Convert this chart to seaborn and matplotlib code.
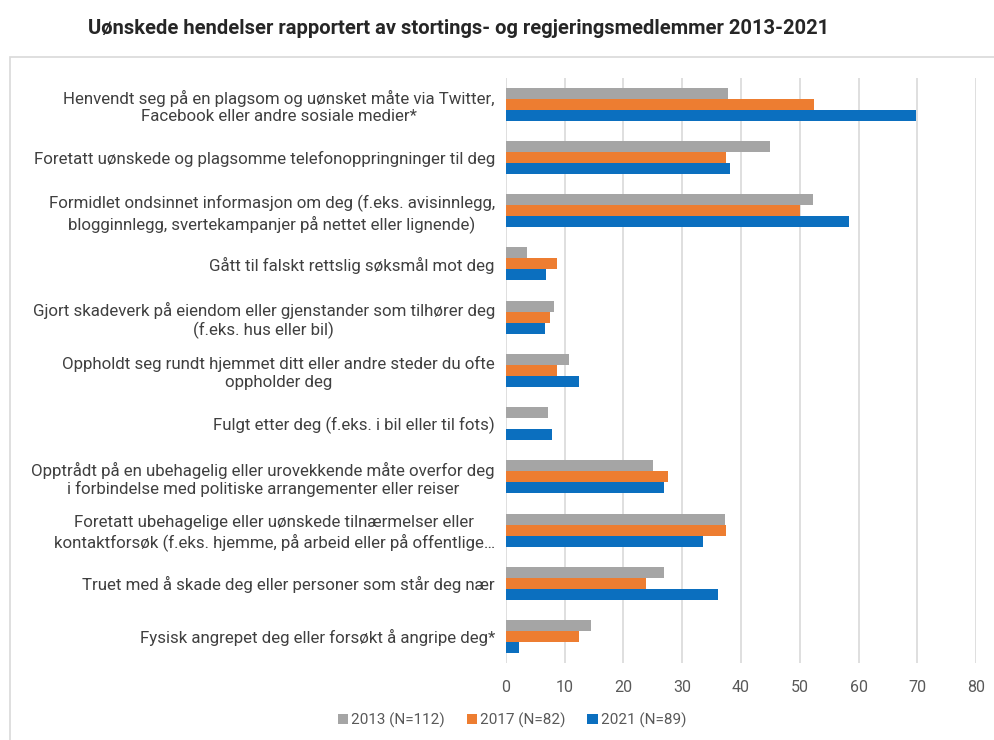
import pandas as pd
import matplotlib
matplotlib.use("Agg")
import matplotlib.pyplot as plt
from matplotlib.patches import Rectangle
import seaborn as sns

# Categories (top to bottom) and values per survey year
categories = [
    "Henvendt seg på en plagsom og uønsket måte via Twitter,\nFacebook eller andre sosiale medier*",
    "Foretatt uønskede og plagsomme telefonoppringninger til deg",
    "Formidlet ondsinnet informasjon om deg (f.eks. avisinnlegg,\nblogginnlegg, svertekampanjer på nettet eller lignende)",
    "Gått til falskt rettslig søksmål mot deg",
    "Gjort skadeverk på eiendom eller gjenstander som tilhører deg\n(f.eks. hus eller bil)",
    "Oppholdt seg rundt hjemmet ditt eller andre steder du ofte\noppholder deg",
    "Fulgt etter deg (f.eks. i bil eller til fots)",
    "Opptrådt på en ubehagelig eller urovekkende måte overfor deg\ni forbindelse med politiske arrangementer eller reiser",
    "Foretatt ubehagelige eller uønskede tilnærmelser eller\nkontaktforsøk (f.eks. hjemme, på arbeid eller på offentlige…",
    "Truet med å skade deg eller personer som står deg nær",
    "Fysisk angrepet deg eller forsøkt å angripe deg*",
]
series = ["2013 (N=112)", "2017 (N=82)", "2021 (N=89)"]
v2013 = [37.7, 45.0, 52.3, 3.5, 8.1, 10.8, 7.2, 25.1, 37.3, 26.9, 14.4]
v2017 = [52.5, 37.4, 50.0, 8.7, 7.5, 8.7, 0.0, 27.5, 37.5, 23.8, 12.4]
v2021 = [69.7, 38.1, 58.4, 6.8, 6.6, 12.4, 7.8, 26.9, 33.6, 36.0, 2.3]
colors = ["#A5A5A5", "#ED7D31", "#0B6FBF"]
x_ticks = [0, 10, 20, 30, 40, 50, 60, 70, 80]

rows = []
for name, vals in zip(series, [v2013, v2017, v2021]):
    for cat, v in zip(categories, vals):
        rows.append({"kategori": cat, "serie": name, "andel": v})
df = pd.DataFrame(rows)

sns.set_theme(style="white")
plt.rcParams["font.family"] = ["Roboto", "DejaVu Sans"]

fig = plt.figure(figsize=(9.95, 7.4), dpi=100)
ax = fig.add_axes([0.5085, 0.104, 0.4725, 0.791])

# light frame around the chart area
fig.patches.append(Rectangle((10 / 995, -0.2), 1.2, 1.2 - 57 / 740,
                             transform=fig.transFigure, fill=False,
                             edgecolor="#D9D9D9", linewidth=1.2, zorder=0))

sns.barplot(data=df, y="kategori", x="andel", hue="serie", orient="h",
            order=categories, hue_order=series, palette=colors,
            width=0.62, saturation=1, linewidth=0, ax=ax, legend=True)

ax.set_xlim(0, 80)
ax.set_xticks(x_ticks)
ax.set_xlabel("")
ax.set_ylabel("")
ax.grid(axis="x", color="#D9D9D9", linewidth=1.2)
ax.set_axisbelow(True)
for s in ax.spines.values():
    s.set_visible(False)
ax.tick_params(axis="x", colors="#595959", labelsize=11.5, length=0, pad=12)
ax.tick_params(axis="y", colors="#404040", labelsize=12.2, length=0, pad=8)
for lab in ax.get_yticklabels():
    lab.set_multialignment("center")

handles, labels = ax.get_legend_handles_labels()
ax.get_legend().remove()
leg = fig.legend(handles, labels, loc="center", bbox_to_anchor=(512 / 995, 1 - 720 / 740),
                 ncol=3, frameon=False, fontsize=11, handlelength=0.7, handleheight=0.7,
                 handletextpad=0.2, columnspacing=1.4)
for t in leg.get_texts():
    t.set_color("#595959")

fig.text(88 / 995, 1 - 28 / 740,
         "Uønskede hendelser rapportert av stortings- og regjeringsmedlemmer 2013-2021",
         ha="left", va="center", fontsize=14.5, fontweight="bold", color="#262626")

fig.savefig("out.png", dpi=100)
